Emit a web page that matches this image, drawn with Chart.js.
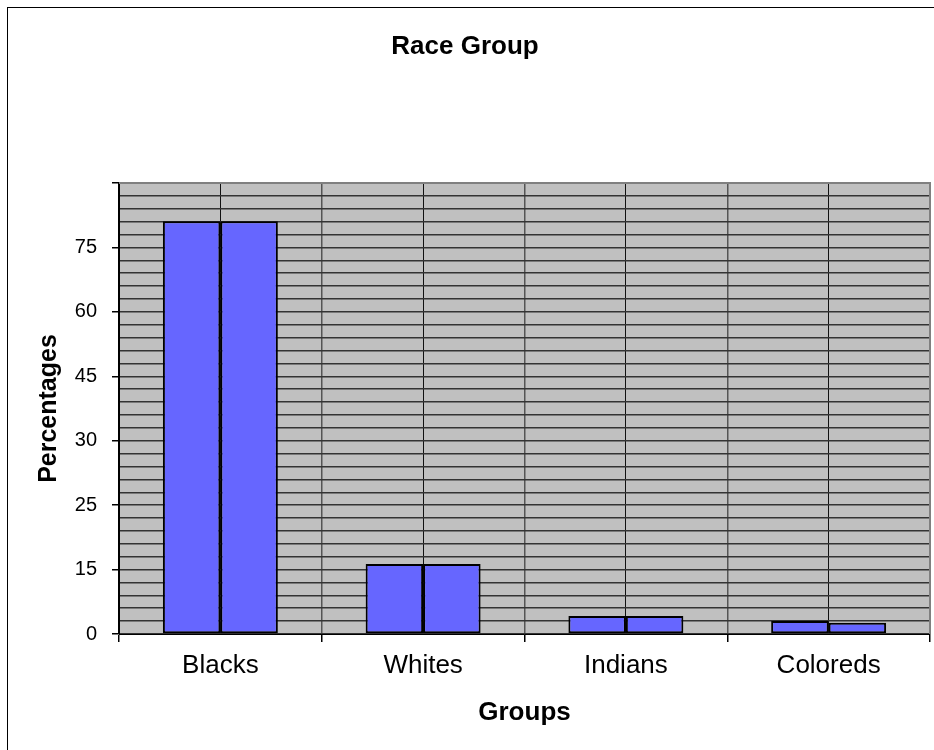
<!DOCTYPE html>
<html>
<head>
<meta charset="utf-8">
<script src="https://cdn.jsdelivr.net/npm/chart.js@4/dist/chart.umd.min.js"></script>
<style>
  html, body { margin: 0; padding: 0; background: #fff; }
  #wrap { width: 934px; height: 750px; position: relative; }
</style>
</head>
<body>
<div id="wrap"><canvas id="chart"></canvas></div>
<script>
// Data (axis units: 0..105, one label every 15 units)
const groups = ['Blacks', 'Whites', 'Indians', 'Coloreds'];
const seriesA = [96.1, 16.3, 4.2, 3.0];
const seriesB = [96.1, 16.3, 4.2, 2.6];
const yTickLabels = ['0', '15', '25', '30', '45', '60', '75', ''];

const FONT = '"Liberation Sans", Arial, sans-serif';

// grey plot area + outer frame
const framePlugin = {
    id: 'frame',
    beforeDraw(chart) {
        const { ctx, chartArea: a } = chart;
        ctx.save();
        ctx.fillStyle = '#fff';
        ctx.fillRect(0, 0, chart.width, chart.height);
        ctx.fillStyle = '#C0C0C0';
        ctx.fillRect(a.left, a.top, a.right - a.left, a.bottom - a.top);
        ctx.strokeStyle = '#000';
        ctx.lineWidth = 1;
        ctx.strokeRect(7.5, 7.5, chart.width + 20, chart.height + 20);
        ctx.restore();
    },
    afterDatasetsDraw(chart) {
        const { ctx, chartArea: a } = chart;
        ctx.save();
        ctx.strokeStyle = '#808080';
        ctx.lineWidth = 2;
        ctx.beginPath();
        ctx.moveTo(a.left, a.top);
        ctx.lineTo(a.right, a.top);
        ctx.lineTo(a.right, a.bottom);
        ctx.stroke();
        ctx.restore();
    }
};

const ctx = document.getElementById('chart').getContext('2d');
new Chart(ctx, {
    type: 'bar',
    data: {
        labels: groups,
        datasets: [
            { data: seriesA, backgroundColor: '#6666FF', borderColor: '#000', borderWidth: 2, borderSkipped: false },
            { data: seriesB, backgroundColor: '#6666FF', borderColor: '#000', borderWidth: 2, borderSkipped: false }
        ]
    },
    options: {
        responsive: true,
        maintainAspectRatio: false,
        animation: false,
        categoryPercentage: 0.567,
        barPercentage: 1,
        layout: { padding: { left: 0, right: 4, top: 0, bottom: 0 } },
        plugins: {
            legend: { display: false },
            tooltip: { enabled: false },
            title: {
                display: true,
                text: 'Race Group',
                color: '#000',
                font: { family: FONT, size: 26, weight: 'bold' },
                padding: { top: 31, bottom: 120.8 }
            }
        },
        scales: {
            x: {
                type: 'category',
                offset: true,
                weight: 1,
                grid: { offset: true, color: '#555', lineWidth: 1.5, tickLength: 8, tickColor: '#000' },
                border: { display: true, color: '#000', width: 1 },
                ticks: { color: '#000', padding: 8, font: { family: FONT, size: 26 } },
                title: {
                    display: true,
                    text: 'Groups',
                    color: '#000',
                    font: { family: FONT, size: 26, weight: 'bold' },
                    padding: { top: 0, bottom: 22 }
                },
                afterFit(scale) { scale.height = 116; }
            },
            x2: {
                type: 'category',
                position: 'bottom',
                labels: groups,
                offset: true,
                weight: -1,
                grid: { offset: false, drawTicks: false, color: '#111', lineWidth: 1 },
                border: { display: false },
                ticks: { display: false },
                afterFit(scale) { scale.height = 0; }
            },
            y: {
                min: 0,
                max: 105,
                grid: {
                    color: '#333',
                    lineWidth: 1.5,
                    tickLength: 7,
                    tickColor: (c) => (Math.round(c.tick.value / 3) % 5 === 0 ? '#000' : 'rgba(0,0,0,0)')
                },
                border: { display: true, color: '#000', width: 2 },
                ticks: {
                    stepSize: 3,
                    autoSkip: false,
                    color: '#000',
                    padding: 15,
                    font: { family: FONT, size: 20 },
                    callback: (v) => {
                        const i = Math.round(v / 3);
                        return i % 5 === 0 ? yTickLabels[i / 5] : '';
                    }
                },
                title: {
                    display: true,
                    text: 'Percentages',
                    color: '#000',
                    font: { family: FONT, size: 25, weight: 'bold' },
                    padding: { top: 34, bottom: 0 }
                },
                afterFit(scale) { scale.width = 119; }
            }
        }
    },
    plugins: [framePlugin]
});
</script>
</body>
</html>
